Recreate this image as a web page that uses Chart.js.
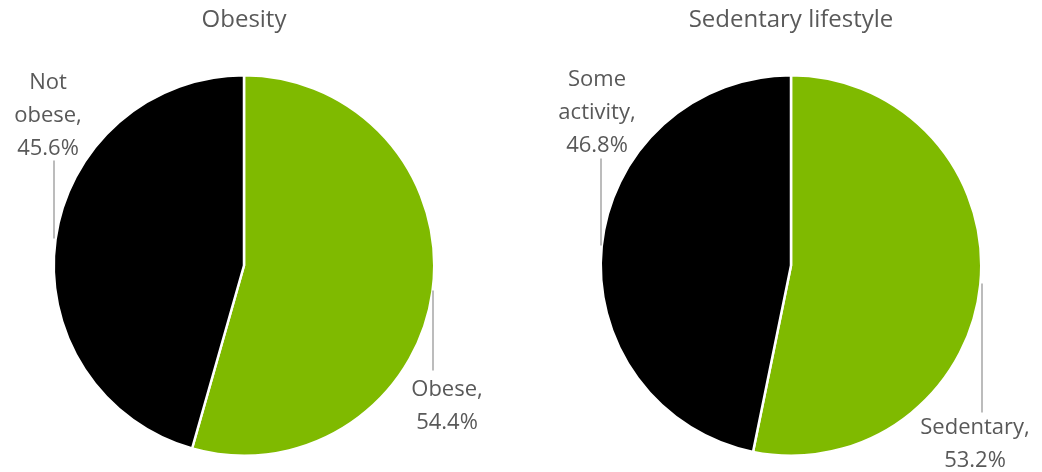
<!DOCTYPE html>
<html>
<head>
<meta charset="utf-8">
<script src="https://cdn.jsdelivr.net/npm/chart.js@4.4.0/dist/chart.umd.min.js"></script>
<style>
  html, body { margin:0; padding:0; background:#fff; }
  #wrap { position:relative; width:1042px; height:472px; overflow:hidden; }
  .box { position:absolute; top:0; height:472px; }
</style>
</head>
<body>
<div id="wrap">
  <div class="box" style="left:0;width:488px"><canvas id="obesityChart"></canvas></div>
  <div class="box" style="left:540px;width:502px"><canvas id="sedentaryChart"></canvas></div>
</div>
<script>
/* data */
const obesityTitle = "Obesity";
const obesityCategories = ["Obese", "Not obese"];
const obesityValues = [54.4, 45.6];

const sedentaryTitle = "Sedentary lifestyle";
const sedentaryCategories = ["Sedentary", "Some activity"];
const sedentaryValues = [53.2, 46.8];

const sliceColors = ["#7fba00", "#000000"];
const textColor = "#595959";
const leaderColor = "#a6a6a6";
const fontFamily = "'Open Sans', 'Liberation Sans', sans-serif";

/* where each label sits, relative to the pie centre (px) */
const obesityLabelPos = [
  { tx: 203, ty: 124, lx: 189, ly1: 25, ly2: 105 },
  { tx: -196, ty: -183, lx: -190, ly1: -105, ly2: -27 }
];
const sedentaryLabelPos = [
  { tx: 184, ty: 162, lx: 191, ly1: 18, ly2: 147 },
  { tx: -194, ty: -186, lx: -190, ly1: -107, ly2: -20 }
];

function labelLines(name, val) {
  const words = name.split(" ");
  words[words.length - 1] += ",";
  words.push(val.toFixed(1) + "%");
  return words;
}

// draws the wrapped labels with vertical leader lines
const pieLabels = {
  id: "pieLabels",
  afterDatasetsDraw(chart, args, opts) {
    const { ctx } = chart;
    const meta = chart.getDatasetMeta(0);
    const vals = chart.data.datasets[0].data;
    meta.data.forEach((arc, i) => {
      const p = opts.pos[i];
      const cx = arc.x, cy = arc.y;
      ctx.save();
      ctx.strokeStyle = leaderColor;
      ctx.lineWidth = 1.5;
      ctx.beginPath();
      ctx.moveTo(cx + p.lx, cy + p.ly1);
      ctx.lineTo(cx + p.lx, cy + p.ly2);
      ctx.stroke();
      ctx.fillStyle = textColor;
      ctx.font = "22px " + fontFamily;
      ctx.textAlign = "center";
      ctx.textBaseline = "middle";
      const lines = labelLines(chart.data.labels[i], vals[i]);
      lines.forEach((t, k) => {
        ctx.fillText(t, cx + p.tx, cy + p.ty + k * 33);
      });
      ctx.restore();
    });
  }
};

function makePie(id, title, cats, vals, pos) {
  const ctx = document.getElementById(id).getContext("2d");
  return new Chart(ctx, {
    type: "pie",
    data: {
      labels: cats,
      datasets: [{
        data: vals,
        backgroundColor: sliceColors,
        borderColor: "#ffffff",
        borderWidth: 2.5
      }]
    },
    options: {
      responsive: true,
      maintainAspectRatio: false,
      animation: false,
      layout: { padding: { top: 0, bottom: 15, left: 0, right: 0 } },
      plugins: {
        legend: { display: false },
        tooltip: { enabled: false },
        title: {
          display: true,
          text: title,
          color: textColor,
          font: { size: 24, family: fontFamily, weight: "normal" },
          padding: { top: 6, bottom: 39.2 }
        },
        pieLabels: { pos: pos }
      }
    },
    plugins: [pieLabels]
  });
}

makePie("obesityChart", obesityTitle, obesityCategories, obesityValues, obesityLabelPos);
makePie("sedentaryChart", sedentaryTitle, sedentaryCategories, sedentaryValues, sedentaryLabelPos);
</script>
</body>
</html>
